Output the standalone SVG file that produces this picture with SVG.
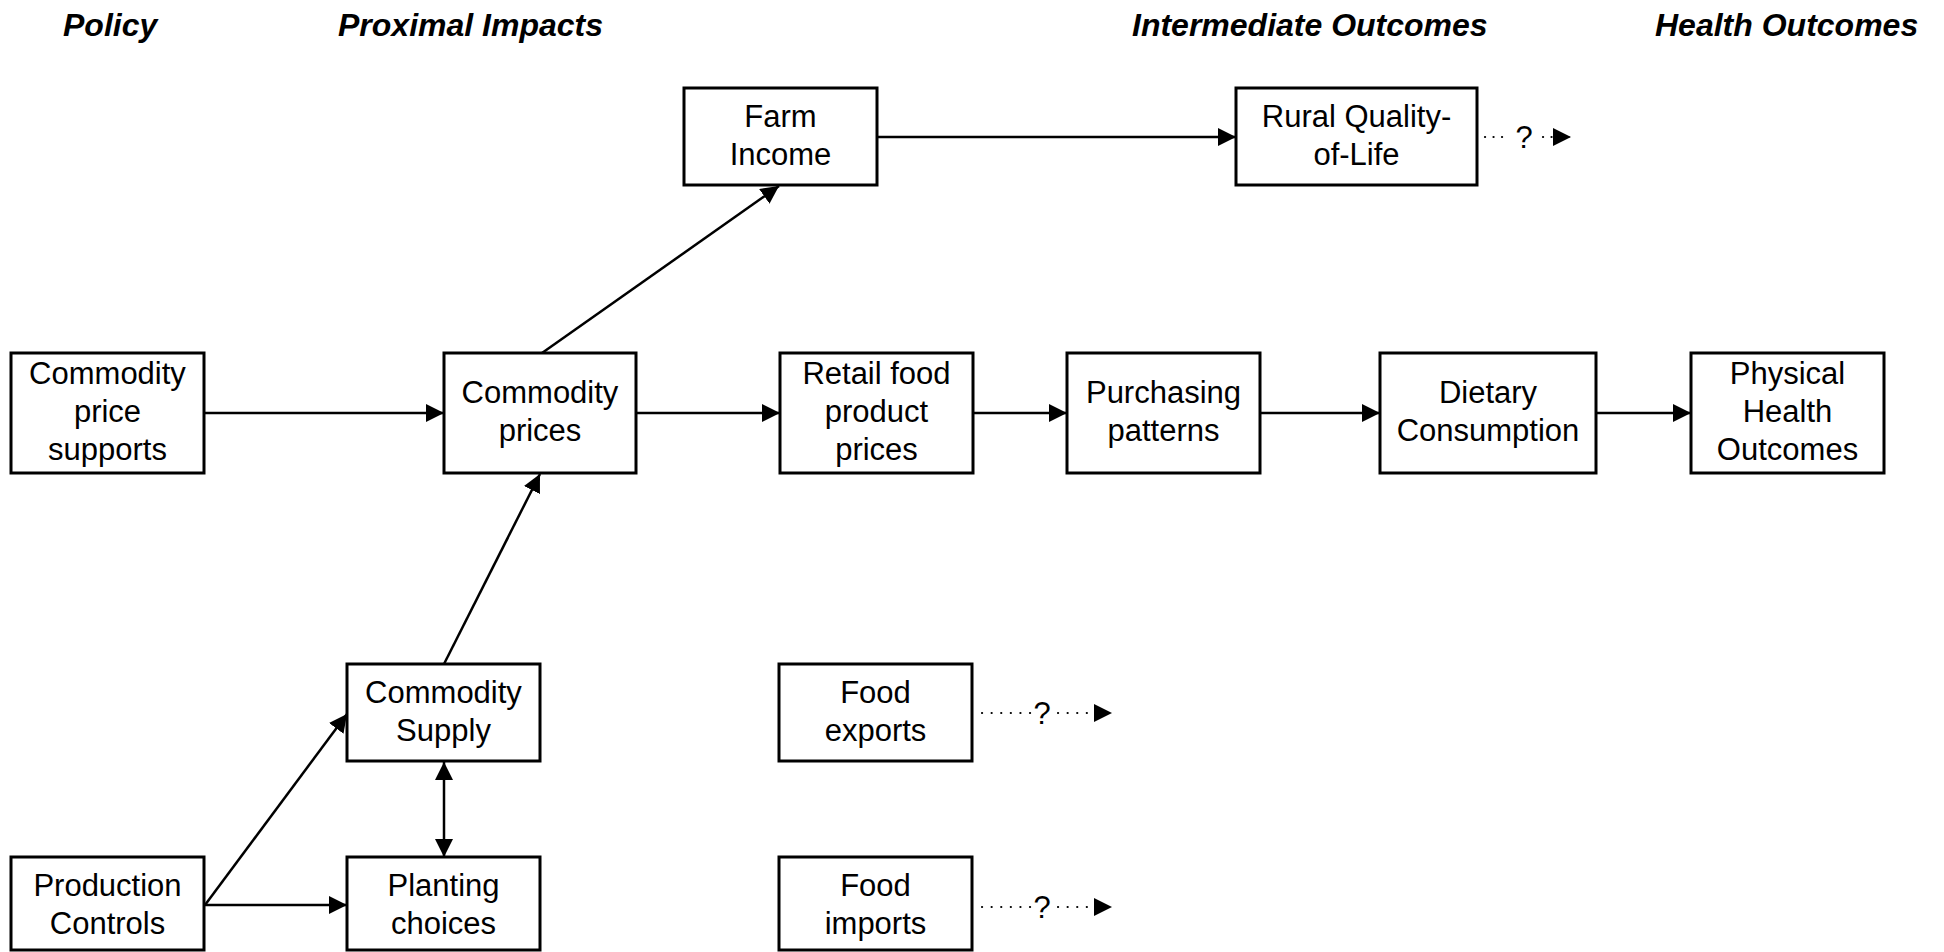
<svg xmlns="http://www.w3.org/2000/svg" width="1944" height="952" viewBox="0 0 1944 952">
<style>
  .box { fill: #fff; stroke: #000; stroke-width: 3; }
  .t { font-family: "Liberation Sans", Arial, sans-serif; font-size: 31px; fill: #000; text-anchor: middle; }
  .h { font-family: "Liberation Sans", Arial, sans-serif; font-size: 32px; font-weight: bold; font-style: italic; fill: #000; }
  .c { stroke: #000; stroke-width: 2.5; fill: none; }
  .arr { marker-end: url(#ah); }
  .dbl { marker-start: url(#ah); marker-end: url(#ah); }
  .dot { stroke: #000; stroke-width: 2.2; fill: none; stroke-linecap: round; stroke-dasharray: 0.1 9.5; }
  .dot2 { stroke: #000; stroke-width: 2.2; fill: none; stroke-linecap: round; stroke-dasharray: 0.1 8.4; }
</style>
<defs>
  <marker id="ah" markerUnits="userSpaceOnUse" markerWidth="19" markerHeight="19" refX="18" refY="9" orient="auto-start-reverse">
    <path d="M0,0 L18,9 L0,18 Z" fill="#000"/>
  </marker>
</defs>
<rect width="1944" height="952" fill="#fff"/>

<g id="headers">
  <text class="h" x="63" y="36">Policy</text>
  <text class="h" x="338" y="36">Proximal Impacts</text>
  <text class="h" x="1132" y="36">Intermediate Outcomes</text>
  <text class="h" x="1655" y="36">Health Outcomes</text>
</g>

<g id="connectors">
  <line class="c arr" x1="204" y1="413" x2="444" y2="413"/>
  <line class="c arr" x1="636" y1="413" x2="780" y2="413"/>
  <line class="c arr" x1="973" y1="413" x2="1067" y2="413"/>
  <line class="c arr" x1="1260" y1="413" x2="1380" y2="413"/>
  <line class="c arr" x1="1596" y1="413" x2="1691" y2="413"/>
  <line class="c arr" x1="542" y1="353" x2="779" y2="186"/>
  <line class="c arr" x1="877" y1="137" x2="1236" y2="137"/>
  <line class="c arr" x1="444" y1="664" x2="540" y2="474"/>
  <line class="c arr" x1="205" y1="905" x2="347" y2="714"/>
  <line class="c arr" x1="204" y1="905" x2="347" y2="905"/>
  <line class="c dbl" x1="444" y1="762" x2="444" y2="857"/>
  <!-- dotted: Rural -->
  <line class="dot2" x1="1485" y1="137" x2="1503" y2="137"/>
  <text class="t" x="1524" y="148">?</text>
  <line class="dot2 arr" x1="1543" y1="137" x2="1571" y2="137"/>
  <!-- dotted: exports -->
  <line class="dot" x1="982" y1="713" x2="1031" y2="713"/>
  <text class="t" x="1042" y="724">?</text>
  <line class="dot arr" x1="1058" y1="713" x2="1112" y2="713"/>
  <!-- dotted: imports -->
  <line class="dot" x1="982" y1="907" x2="1031" y2="907"/>
  <text class="t" x="1042" y="918">?</text>
  <line class="dot arr" x1="1058" y1="907" x2="1112" y2="907"/>
</g>

<g id="n-price-supports">
  <rect class="box" x="11" y="353" width="193" height="120"/>
  <text class="t" x="107.5" y="384">Commodity</text>
  <text class="t" x="107.5" y="422">price</text>
  <text class="t" x="107.5" y="460">supports</text>
</g>
<g id="n-commodity-prices">
  <rect class="box" x="444" y="353" width="192" height="120"/>
  <text class="t" x="540" y="403">Commodity</text>
  <text class="t" x="540" y="441">prices</text>
</g>
<g id="n-retail">
  <rect class="box" x="780" y="353" width="193" height="120"/>
  <text class="t" x="876.5" y="384">Retail food</text>
  <text class="t" x="876.5" y="422">product</text>
  <text class="t" x="876.5" y="460">prices</text>
</g>
<g id="n-purchasing">
  <rect class="box" x="1067" y="353" width="193" height="120"/>
  <text class="t" x="1163.5" y="403">Purchasing</text>
  <text class="t" x="1163.5" y="441">patterns</text>
</g>
<g id="n-dietary">
  <rect class="box" x="1380" y="353" width="216" height="120"/>
  <text class="t" x="1488" y="403">Dietary</text>
  <text class="t" x="1488" y="441">Consumption</text>
</g>
<g id="n-physical">
  <rect class="box" x="1691" y="353" width="193" height="120"/>
  <text class="t" x="1787.5" y="384">Physical</text>
  <text class="t" x="1787.5" y="422">Health</text>
  <text class="t" x="1787.5" y="460">Outcomes</text>
</g>
<g id="n-farm-income">
  <rect class="box" x="684" y="88" width="193" height="97"/>
  <text class="t" x="780.5" y="127">Farm</text>
  <text class="t" x="780.5" y="165">Income</text>
</g>
<g id="n-rural">
  <rect class="box" x="1236" y="88" width="241" height="97"/>
  <text class="t" x="1356.5" y="127">Rural Quality-</text>
  <text class="t" x="1356.5" y="165">of-Life</text>
</g>
<g id="n-supply">
  <rect class="box" x="347" y="664" width="193" height="97"/>
  <text class="t" x="443.5" y="703">Commodity</text>
  <text class="t" x="443.5" y="741">Supply</text>
</g>
<g id="n-planting">
  <rect class="box" x="347" y="857" width="193" height="93"/>
  <text class="t" x="443.5" y="896">Planting</text>
  <text class="t" x="443.5" y="934">choices</text>
</g>
<g id="n-production">
  <rect class="box" x="11" y="857" width="193" height="93"/>
  <text class="t" x="107.5" y="896">Production</text>
  <text class="t" x="107.5" y="934">Controls</text>
</g>
<g id="n-exports">
  <rect class="box" x="779" y="664" width="193" height="97"/>
  <text class="t" x="875.5" y="703">Food</text>
  <text class="t" x="875.5" y="741">exports</text>
</g>
<g id="n-imports">
  <rect class="box" x="779" y="857" width="193" height="93"/>
  <text class="t" x="875.5" y="896">Food</text>
  <text class="t" x="875.5" y="934">imports</text>
</g>
</svg>
